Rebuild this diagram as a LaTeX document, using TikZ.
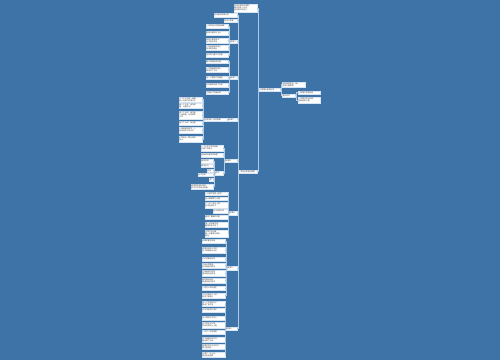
\documentclass[tikz,border=0pt]{standalone}
\usepackage{fontspec}
\newfontfamily\cjk{Noto Sans CJK SC}
\definecolor{bg}{RGB}{62,115,168}
\definecolor{ln}{RGB}{176,202,228}
\definecolor{bd}{RGB}{215,228,242}
\definecolor{tx}{RGB}{60,60,60}
\tikzset{
  box/.style={draw=bd, line width=0.3pt, fill=white, inner xsep=0.6pt, inner ysep=0.9pt,
    font=\cjk\fontsize{1.8}{2.0}\selectfont, text=tx, align=left, anchor=east},
  con/.style={draw=ln, line width=0.45pt}
}
% name, east x, y, text width, text
\newcommand\lbx[5]{\node[box, text width=#4pt] (#1) at (#2,#3) {#5};}
\newcommand\rbx[5]{\node[box, anchor=west, text width=#4pt] (#1) at (#2,#3) {#5};}
\begin{document}
\begin{tikzpicture}[x=1pt,y=-1pt]
\fill[bg] (0,0) rectangle (500,360);
\useasboundingbox (0,0) rectangle (500,360);

% root
\node[box, anchor=center, text width=17.3pt, align=center] (root) at (247.75,171.5) {早会分享励志故事};
% right side
\lbx{top}{257}{8}{21.8}{早会分享励志故事：\\每天进步一点点，\\成就更好的自己}
\rbx{R}{259}{89.5}{19.8}{小故事大道理分享}
\rbx{Ra}{282}{84.5}{21.8}{坚持就是胜利，每一\\次努力都算数}
\rbx{Rb}{282}{95.5}{11.8}{团队合作}
\rbx{Rb1}{298}{92.5}{20.8}{一根筷子容易折断}
\rbx{Rb2}{298}{100}{20.8}{一把筷子难以折断，\\团结就是力量}

% left level 1
\lbx{A}{237}{15}{21.8}{早会励志故事分享}
\lbx{B}{237}{20.5}{11.8}{早会小故事}
\lbx{C}{237}{41.5}{5.8}{故事一}
\lbx{D}{237}{77.5}{5.8}{故事二}
\lbx{E}{237}{119.5}{7.8}{故事三}
\lbx{F}{237}{160.5}{10.8}{故事四}
\lbx{G}{237}{213}{6.8}{故事五}
\lbx{H}{237}{268}{8.8}{故事六}
\lbx{I}{237}{328.5}{9.8}{故事七}

% C children
\lbx{C1}{228}{26}{20.8}{一位年轻人向智者请教}
\lbx{C2}{228}{33}{20.8}{智者让他挑水上山}
\lbx{C3}{228}{40.5}{20.8}{年轻人每天挑水，\\从不抱怨辛苦}
\lbx{C4}{228}{47.5}{20.8}{一年后他发现自己\\变得更加强壮}
\lbx{C5}{228}{55}{20.8}{坚持的力量不可估量}
% D children
\lbx{D1}{228}{61.5}{20.8}{两只青蛙掉进奶桶}
\lbx{D2}{228}{69.5}{20.8}{一只青蛙放弃挣扎，\\很快沉了下去}
\lbx{D3}{228}{77.5}{20.8}{另一只青蛙不停蹬腿}
\lbx{D4}{228}{85}{20.8}{牛奶最终变成了奶油}
\lbx{D5}{228}{92.5}{20.8}{它跳出了奶桶获救}
% E
\lbx{E1}{227}{119.5}{21.8}{态度决定一切的故事}
\lbx{E11}{202}{99.5}{21.8}{三个工人在砌一堵墙，\\有人问他们在做什么}
\lbx{E12}{202}{105.5}{21.8}{第一个人说：我在砌\\墙，没看见吗？}
\lbx{E13}{202}{115}{21.8}{第二个人说：我在盖\\一座高楼，这是我的\\工作}
\lbx{E14}{202}{123}{21.8}{第三个人说：我在建}
\lbx{E15}{202}{130}{21.8}{一座美丽的城市，十\\年后他成了规划师}
\lbx{E16}{202}{139}{21.8}{心有多大，舞台就有\\多大}
% F
\lbx{F1}{223}{148}{20.8}{一个人在沙漠里迷路，\\只剩下半瓶水}
\lbx{F2}{223}{155}{20.8}{他始终没有放弃希望}
\lbx{F5}{223}{173}{6.8}{启示}
\lbx{F5a}{213}{161}{10.8}{保持乐观}
\lbx{F5b}{213}{165.5}{10.8}{相信自己}
\lbx{F5c}{213}{170.5}{4.8}{坚持}
\lbx{F5d}{213}{174.5}{13.8}{永不言弃}
\lbx{F5e}{213}{179.5}{2.3}{是}
\lbx{F5f}{213}{186.5}{20.8}{希望是生命的源泉，\\失去它生命就会枯萎}
% G
\lbx{G1}{228}{193.5}{21.8}{一只蜗牛想爬上树顶}
\lbx{G2}{228}{198.5}{21.8}{别人都嘲笑它太慢}
\lbx{G3}{228}{205}{21.8}{它一步一步往上爬，\\从来没有停下}
\lbx{G4}{228}{211}{13.8}{终于到达树顶}
\lbx{G5}{228}{217}{21.8}{看到了最美的风景}
\lbx{G6}{228}{224.5}{21.8}{慢一点没有关系，\\重要的是不停下}
\lbx{G7}{228}{233.5}{21.8}{只要方向正确，\\每一步都是在靠近\\目标}
% H
\lbx{H1}{225}{241}{21.8}{老鹰的重生故事}
\lbx{H2}{225}{250}{21.8}{老鹰活到四十岁时，\\爪子和喙都已老化}
\lbx{H3}{225}{259}{21.8}{它必须做出选择}
\lbx{H4}{225}{265.5}{21.8}{飞到山顶筑巢，\\忍受痛苦的蜕变}
\lbx{H5}{225}{273}{21.8}{它用喙击打岩石，\\直到喙完全脱落}
\lbx{H6}{225}{280.5}{21.8}{新的喙长出后，\\再拔掉旧的指甲}
\lbx{H7}{225}{288}{21.8}{一百五十天后重生}
\lbx{H8}{225}{295.5}{21.8}{又可以再活三十年，\\改变才能成长}
% I
\lbx{I1}{225}{303.5}{21.8}{有一个农夫的驴子\\掉进了枯井里}
\lbx{I2}{225}{310}{21.8}{农夫决定把井填平}
\lbx{I3}{225}{318}{21.8}{泥土落在驴子背上}
\lbx{I4}{225}{325}{21.8}{驴子把泥土抖落，\\然后站到泥土上面}
\lbx{I5}{225}{332}{21.8}{一次又一次地重复}
\lbx{I6}{225}{339.5}{21.8}{驴子慢慢升到井口，\\最后跳了出来}
\lbx{I7}{225}{346.5}{21.8}{困境中的泥土也可以\\成为垫脚石}
\lbx{I8}{225}{354.5}{21.8}{抖落它，站上去，\\就能走出困境}

% connectors
\draw[con] (root.east) -- ++(0.8,0) |- (top.east);
\draw[con] (root.east) -- ++(0.8,0) |- (R.west);
\foreach \c in {Ra,Rb} \draw[con] (R.east) -- ++(0.9,0) |- (\c.west);
\foreach \c in {Rb1,Rb2} \draw[con] (Rb.east) -- ++(1.2,0) |- (\c.west);
\foreach \c in {A,B,C,D,E,F,G,H,I} \draw[con] (root.west) -- ++(-0.6,0) |- (\c.east);
\foreach \p/\c in {C/C1,C/C2,C/C3,C/C4,C/C5,D/D1,D/D2,D/D3,D/D4,D/D5,E/E1,
  E1/E11,E1/E12,E1/E13,E1/E14,E1/E15,E1/E16,F/F1,F/F2,F/F5,
  F5/F5a,F5/F5b,F5/F5c,F5/F5d,F5/F5e,F5/F5f,
  G/G1,G/G2,G/G3,G/G4,G/G5,G/G6,G/G7,
  H/H1,H/H2,H/H3,H/H4,H/H5,H/H6,H/H7,H/H8,
  I/I1,I/I2,I/I3,I/I4,I/I5,I/I6,I/I7,I/I8}
  \draw[con] (\p.west) -- ++(-0.9,0) |- (\c.east);
\end{tikzpicture}
\end{document}
